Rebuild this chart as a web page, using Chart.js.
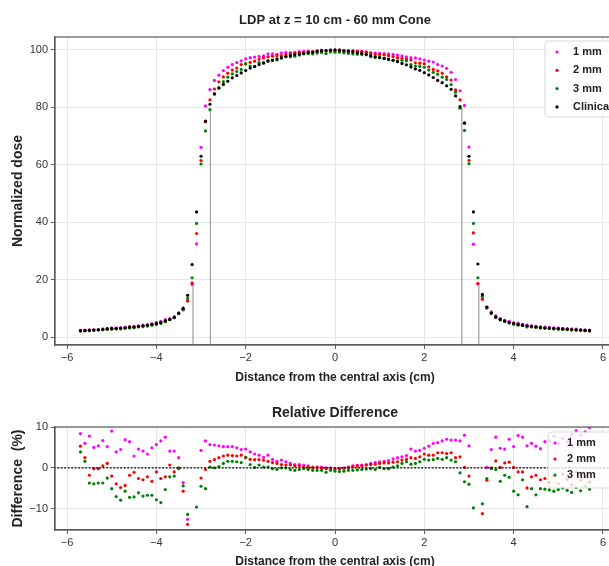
<!DOCTYPE html>
<html>
<head>
<meta charset="utf-8">
<title>LDP at z = 10 cm - 60 mm Cone</title>
<script src="https://cdn.jsdelivr.net/npm/chart.js@4.4.1/dist/chart.umd.min.js"></script>
<style>
  html, body { margin: 0; padding: 0; background: #fff; overflow: hidden; width: 609px; height: 566px; }
  .box { position: absolute; left: 0; }
  #topBox { top: 0; }
  #botBox { top: 392px; }
</style>
</head>
<body>
<div class="box" id="topBox"><canvas id="ldpChart" width="640" height="392"></canvas></div>
<div class="box" id="botBox"><canvas id="diffChart" width="640" height="182"></canvas></div>
<script>
// Distance from the central axis (cm)
const distance = [
  -5.7, -5.6, -5.5, -5.4, -5.3, -5.2, -5.1, -5.0, -4.9, -4.8,
  -4.7, -4.6, -4.5, -4.4, -4.3, -4.2, -4.1, -4.0, -3.9, -3.8,
  -3.7, -3.6, -3.5, -3.4, -3.3, -3.2, -3.1, -3.0, -2.9, -2.8,
  -2.7, -2.6, -2.5, -2.4, -2.3, -2.2, -2.1, -2.0, -1.9, -1.8,
  -1.7, -1.6, -1.5, -1.4, -1.3, -1.2, -1.1, -1.0, -0.9, -0.8,
  -0.7, -0.6, -0.5, -0.4, -0.3, -0.2, -0.1, 0.0,
  0.1, 0.2, 0.3, 0.4, 0.5, 0.6, 0.7, 0.8, 0.9, 1.0,
  1.1, 1.2, 1.3, 1.4, 1.5, 1.6, 1.7, 1.8, 1.9, 2.0,
  2.1, 2.2, 2.3, 2.4, 2.5, 2.6, 2.7, 2.8, 2.9, 3.0,
  3.1, 3.2, 3.3, 3.4, 3.5, 3.6, 3.7, 3.8, 3.9, 4.0,
  4.1, 4.2, 4.3, 4.4, 4.5, 4.6, 4.7, 4.8, 4.9, 5.0,
  5.1, 5.2, 5.3, 5.4, 5.5, 5.6, 5.7
];

// Normalized dose per grid size
const dose1mm = [
  2.4, 2.4, 2.6, 2.6, 2.7, 2.9, 3.0, 3.3, 3.2, 3.3,
  3.5, 3.7, 3.7, 4.0, 4.2, 4.3, 4.7, 5.1, 5.5, 6.1,
  6.5, 7.2, 8.5, 9.7, 12.8, 18.4, 32.5, 66.1, 80.5, 86.2,
  89.4, 91.2, 92.8, 94.0, 94.9, 95.6, 96.2, 96.9, 97.3, 97.5,
  97.8, 97.9, 98.6, 98.6, 98.5, 99.0, 99.2, 99.1, 99.2, 99.4,
  99.5, 99.6, 99.4, 99.7, 99.9, 99.8, 99.9, 99.8,
  99.8, 99.7, 99.7, 99.8, 99.6, 99.5, 99.3, 99.1, 98.9, 98.8,
  98.7, 98.6, 98.5, 98.2, 97.9, 97.6, 97.3, 97.2, 96.9, 96.5,
  96.1, 95.8, 94.9, 94.4, 93.6, 92.2, 89.7, 85.8, 80.7, 66.2,
  32.4, 18.6, 13.5, 10.5, 8.8, 7.5, 6.5, 5.9, 5.5, 5.0,
  4.9, 4.5, 4.2, 4.0, 3.8, 3.6, 3.5, 3.4, 3.3, 3.2,
  3.1, 3.0, 2.9, 2.8, 2.7, 2.6, 2.5
];
const dose2mm = [
  2.3, 2.4, 2.4, 2.5, 2.6, 2.7, 2.9, 2.9, 3.0, 3.0,
  3.2, 3.4, 3.6, 3.7, 3.9, 4.1, 4.4, 4.8, 5.1, 5.6,
  6.2, 6.8, 8.3, 9.5, 12.6, 18.9, 36.1, 61.5, 75.0, 82.6,
  86.4, 88.9, 90.6, 91.9, 93.0, 93.7, 94.9, 95.1, 95.7, 96.1,
  96.8, 97.2, 97.6, 97.8, 98.0, 98.0, 98.4, 98.7, 98.9, 99.1,
  99.0, 99.3, 99.3, 99.6, 99.7, 99.6, 99.7, 99.7,
  99.9, 99.8, 99.8, 99.6, 99.5, 99.4, 99.2, 98.8, 98.5, 98.4,
  98.3, 98.0, 97.7, 97.3, 97.1, 96.8, 96.5, 95.5, 95.4, 95.2,
  94.1, 93.2, 92.7, 91.9, 90.6, 89.5, 86.1, 82.6, 74.6, 61.6,
  36.3, 18.7, 13.2, 10.2, 8.4, 7.1, 6.2, 5.7, 5.2, 4.8,
  4.5, 4.2, 3.8, 3.7, 3.5, 3.3, 3.2, 3.1, 3.0, 2.9,
  2.8, 2.7, 2.6, 2.5, 2.4, 2.3, 2.2
];
const dose3mm = [
  2.3, 2.3, 2.3, 2.4, 2.5, 2.6, 2.8, 2.8, 2.9, 2.9,
  3.1, 3.2, 3.3, 3.6, 3.7, 3.9, 4.2, 4.4, 4.8, 5.4,
  6.1, 6.8, 8.3, 9.7, 13.5, 20.7, 39.6, 60.3, 71.8, 79.2,
  84.7, 86.9, 89.0, 90.5, 91.7, 92.5, 93.2, 95.2, 94.4, 94.3,
  95.6, 95.6, 96.3, 96.3, 96.5, 97.2, 97.7, 97.6, 97.8, 98.2,
  98.6, 98.7, 98.6, 98.9, 99.1, 98.7, 99.3, 99.2,
  99.2, 99.0, 98.8, 98.6, 98.5, 98.4, 98.3, 97.7, 97.4, 97.4,
  97.0, 96.6, 96.4, 96.2, 96.4, 96.2, 94.9, 94.4, 94.3, 94.0,
  93.0, 92.2, 91.5, 90.5, 89.7, 87.9, 85.3, 79.7, 72.0, 60.4,
  39.6, 20.7, 14.3, 10.2, 8.4, 7.0, 6.0, 5.5, 5.0, 4.5,
  4.2, 4.1, 3.6, 3.6, 3.4, 3.2, 3.1, 3.0, 2.9, 2.8,
  2.8, 2.6, 2.5, 2.5, 2.4, 2.3, 2.2
];
const doseClinical = [
  2.2, 2.3, 2.4, 2.5, 2.6, 2.7, 2.9, 3.0, 3.1, 3.2,
  3.3, 3.5, 3.6, 3.8, 4.0, 4.2, 4.5, 4.8, 5.2, 5.7,
  6.2, 6.9, 8.3, 10.1, 14.6, 25.3, 43.6, 63.0, 75.2, 81.1,
  84.7, 86.7, 88.0, 89.1, 90.3, 91.1, 92.0, 92.8, 93.7, 94.2,
  94.9, 95.4, 96.1, 96.5, 96.9, 97.2, 97.7, 98.0, 98.4, 98.6,
  98.8, 99.1, 99.2, 99.5, 99.7, 99.8, 99.9, 100.0,
  99.9, 99.7, 99.5, 99.3, 99.0, 98.8, 98.5, 98.0, 97.6, 97.3,
  97.1, 96.8, 96.4, 95.9, 95.3, 94.8, 94.1, 93.4, 92.9, 92.1,
  91.3, 90.4, 89.4, 88.6, 87.5, 86.3, 84.0, 80.3, 74.5, 63.0,
  43.6, 25.5, 14.9, 10.5, 8.4, 7.0, 6.2, 5.6, 5.1, 4.8,
  4.5, 4.2, 4.0, 3.8, 3.6, 3.4, 3.3, 3.2, 3.1, 3.0,
  2.9, 2.8, 2.7, 2.6, 2.5, 2.4, 2.3
];

// Relative difference to clinical (%), null = outside the axis range
const diff1mm = [
  8.4, 6.0, 7.8, 5.0, 5.4, 6.7, 5.2, 9.0, 3.9, 4.5,
  6.9, 6.4, 2.9, 4.6, 4.1, 3.4, 4.9, 5.7, 6.6, 7.5,
  4.1, 4.1, 2.5, -3.6, -12.6, null, null, 4.3, 6.6, 5.7,
  5.6, 5.4, 5.2, 5.2, 5.2, 4.9, 4.5, 4.6, 3.9, 3.4,
  3.1, 2.6, 3.1, 2.1, 1.6, 1.9, 1.5, 1.1, 0.8, 0.8,
  0.7, 0.5, 0.2, 0.2, 0.2, 0.0, 0.0, -0.2,
  -0.1, 0.0, 0.2, 0.5, 0.6, 0.7, 0.8, 1.1, 1.3, 1.5,
  1.6, 1.8, 2.2, 2.5, 2.7, 3.0, 4.6, 4.1, 4.3, 4.8,
  5.3, 6.0, 6.2, 6.6, 7.0, 6.8, 6.8, 6.6, 8.0, 5.4,
  null, null, null, 0.1, 4.5, 7.5, 4.8, 4.6, 7.0, 5.2,
  7.9, 7.5, 5.4, 6.0, 5.3, 4.7, 6.4, 6.6, 7.8, 5.9,
  7.2, 6.3, 8.2, 9.1, 8.0, 8.8, 9.9
];
const diff2mm = [
  5.3, 2.5, -1.8, -0.2, -0.2, 0.5, 1.1, -2.0, -3.9, -4.8,
  -4.3, -1.8, -1.1, -2.6, -2.9, -2.2, -3.3, -1.0, -2.6, -2.2,
  0.7, -1.0, -0.2, -5.7, -13.8, null, null, -2.5, -0.4, 1.6,
  2.0, 2.5, 2.9, 3.1, 3.0, 2.9, 3.1, 2.5, 2.1, 2.0,
  2.0, 1.9, 1.6, 1.3, 1.1, 0.8, 0.7, 0.7, 0.5, 0.5,
  0.2, 0.2, 0.1, 0.1, 0.0, -0.2, -0.2, -0.3,
  -0.3, -0.1, 0.1, 0.3, 0.5, 0.5, 0.7, 0.8, 0.9, 1.1,
  1.2, 1.2, 1.4, 1.5, 1.9, 2.1, 2.5, 2.3, 2.7, 3.4,
  3.1, 3.1, 3.7, 3.7, 3.5, 3.7, 2.5, 2.7, 0.1, -2.0,
  null, null, -11.2, -3.0, 0.0, 1.7, 0.1, 1.2, 1.4, 0.1,
  -1.0, -1.0, -4.9, -2.2, -1.8, -2.9, -2.6, -3.5, -2.0, -3.9,
  -1.6, -2.8, -4.1, -1.0, -3.0, -2.2, -3.5
];
const diff3mm = [
  3.9, 1.6, -3.7, -3.9, -3.7, -3.7, -2.5, -5.1, -7.0, -7.9,
  -5.7, -7.2, -7.1, -6.1, -6.9, -6.7, -6.7, -7.8, -8.5, -5.3,
  -2.2, -2.0, 0.0, -4.4, -11.4, null, -9.6, -4.5, -5.1, 0.2,
  0.0, 0.3, 1.1, 1.6, 1.6, 1.5, 1.3, 2.6, 0.8, 0.1,
  0.7, 0.2, 0.2, -0.2, -0.4, 0.0, 0.0, -0.4, -0.6, -0.4,
  -0.2, -0.4, -0.6, -0.6, -0.6, -1.1, -0.6, -0.8,
  -0.9, -0.8, -0.6, -0.6, -0.5, -0.4, -0.3, -0.2, -0.4, 0.1,
  -0.2, -0.2, 0.2, 0.5, 1.1, 1.5, 0.9, 1.1, 1.5, 2.1,
  1.9, 2.0, 2.3, 2.1, 2.5, 1.9, 1.5, -1.2, -3.4, -4.0,
  -9.8, null, -8.8, -2.6, -0.2, -0.4, -3.3, -1.8, -2.3, -5.7,
  -6.6, -2.9, -9.5, -5.1, -6.6, -5.1, -5.2, -5.4, -5.7, -5.3,
  -4.9, -5.5, -6.0, -4.8, -5.6, -4.5, -5.2
];

// Field edge markers (gray vertical lines)
const edgeX = [-3.18, -2.79, 2.84, 3.22];
const edgeTop = [18.5, 79.5, 80.0, 18.2];

const xTicks = [-6, -4, -2, 0, 2, 4, 6];
const doseTicks = [0, 20, 40, 60, 80, 100];
const diffTicks = [-10, 0, 10];

const colors = { m1: '#ff00ff', m2: '#ff0000', m3: '#008000', clin: '#000000' };

Chart.defaults.font.family = "'Liberation Sans', Arial, sans-serif";
Chart.defaults.font.size = 11;
Chart.defaults.color = '#333';
Chart.defaults.animation = false;

function pts(ys) {
  return distance.map((x, i) => ({ x: x, y: ys[i] }));
}
function minus(v) {
  return v < 0 ? '\u2212' + Math.abs(v) : String(v);
}

function scatterSet(label, ys, color, order) {
  return {
    type: 'scatter', label: label, data: pts(ys), order: order,
    backgroundColor: color, borderWidth: 0, pointRadius: 1.6, pointHoverRadius: 1.6
  };
}

// Title, frame and a matplotlib style legend inside the axes
const decor = {
  id: 'decor',
  afterDatasetsDraw(chart, args, opts) {
    const c = chart.ctx, a = chart.chartArea;
    c.save();
    c.strokeStyle = '#5a5a5a';
    c.lineWidth = 1.2;
    c.strokeRect(a.left, a.top, a.right - a.left, a.bottom - a.top);

    c.fillStyle = '#222';
    c.font = "bold " + opts.titleSize + "px 'Liberation Sans', Arial, sans-serif";
    c.textAlign = 'center';
    c.textBaseline = 'middle';
    c.fillText(opts.title, (a.left + a.right) / 2, opts.titleY);

    const lg = opts.legend;
    c.globalAlpha = 0.8;
    c.fillStyle = '#fff';
    c.strokeStyle = '#d0d0d0';
    c.lineWidth = 1;
    c.beginPath();
    c.roundRect(lg.x, lg.y, lg.w, lg.h, 3);
    c.fill();
    c.stroke();
    c.globalAlpha = 1;
    c.font = "bold 11px 'Liberation Sans', Arial, sans-serif";
    c.textAlign = 'left';
    lg.items.forEach((it, i) => {
      const y = lg.y + lg.first + i * lg.step;
      c.fillStyle = it.color;
      c.beginPath();
      c.arc(lg.x + lg.mx, y, 1.6, 0, Math.PI * 2);
      c.fill();
      c.fillStyle = '#222';
      c.fillText(it.label, lg.x + lg.tx, y);
    });
    c.restore();
  }
};

function axisX(min, max, height, titlePad) {
  return {
    type: 'linear', min: min, max: max,
    afterBuildTicks: s => { s.ticks = xTicks.map(v => ({ value: v })); },
    afterFit: s => { s.height = height; },
    grid: { color: '#e6e6e6', tickLength: 4, tickColor: '#5a5a5a' },
    border: { color: '#5a5a5a', width: 1.2 },
    ticks: { padding: 2, callback: minus, color: '#333' },
    title: {
      display: true, text: 'Distance from the central axis (cm)',
      font: { size: 12, weight: 'bold' }, color: '#222', padding: { top: 0, bottom: titlePad }
    }
  };
}
function axisY(min, max, tickList, title) {
  return {
    type: 'linear', min: min, max: max,
    afterBuildTicks: s => { s.ticks = tickList.map(v => ({ value: v })); },
    afterFit: s => { s.width = 55; },
    grid: { color: '#e6e6e6', tickLength: 4, tickColor: '#5a5a5a' },
    border: { color: '#5a5a5a', width: 1.2 },
    ticks: { padding: 3, callback: minus, color: '#333' },
    title: {
      display: true, text: title,
      font: { size: 14, weight: 'bold' }, color: '#222', padding: { top: 9.6, bottom: 0 }
    }
  };
}

// Top: lateral dose profile
const edgeSets = edgeX.map((x, i) => ({
  type: 'line', label: 'edge', order: 5,
  data: [{ x: x, y: -5 }, { x: x, y: edgeTop[i] }],
  borderColor: '#a0a0a0', borderWidth: 1.2, pointRadius: 0, showLine: true
}));

new Chart(document.getElementById('ldpChart'), {
  type: 'scatter',
  data: {
    datasets: [
      scatterSet('1 mm', dose1mm, colors.m1, 4),
      scatterSet('2 mm', dose2mm, colors.m2, 3),
      scatterSet('3 mm', dose3mm, colors.m3, 2),
      scatterSet('Clinical', doseClinical, colors.clin, 1)
    ].concat(edgeSets)
  },
  options: {
    responsive: false,
    layout: { padding: { left: 0, right: 25, top: 37, bottom: 0 } },
    scales: {
      x: axisX(-6.27, 6.27, 47, 7),
      y: axisY(-2.7, 104.5, doseTicks, 'Normalized dose')
    },
    plugins: {
      legend: { display: false },
      tooltip: { enabled: false },
      decor: {
        title: 'LDP at z = 10 cm - 60 mm Cone', titleY: 20, titleSize: 13,
        legend: {
          x: 545, y: 41, w: 90, h: 76, first: 11, step: 18.3, mx: 12, tx: 28,
          items: [
            { label: '1 mm', color: colors.m1 },
            { label: '2 mm', color: colors.m2 },
            { label: '3 mm', color: colors.m3 },
            { label: 'Clinical', color: colors.clin }
          ]
        }
      }
    }
  },
  plugins: [decor]
});

// Bottom: relative difference
new Chart(document.getElementById('diffChart'), {
  type: 'scatter',
  data: {
    datasets: [
      {
        type: 'line', label: 'zero', order: 0,
        data: [{ x: -6.3, y: 0 }, { x: 6.3, y: 0 }],
        borderColor: '#000', borderWidth: 1.2, borderDash: [2, 1.5], pointRadius: 0, showLine: true
      },
      scatterSet('1 mm', diff1mm, colors.m1, 3),
      scatterSet('2 mm', diff2mm, colors.m2, 2),
      scatterSet('3 mm', diff3mm, colors.m3, 1)
    ]
  },
  options: {
    responsive: false,
    layout: { padding: { left: 0, right: 25, top: 35, bottom: 0 } },
    scales: {
      x: axisX(-6.27, 6.27, 44, 5),
      y: axisY(-15.2, 10, diffTicks, 'Difference  (%)')
    },
    plugins: {
      legend: { display: false },
      tooltip: { enabled: false },
      decor: {
        title: 'Relative Difference', titleY: 21, titleSize: 14,
        legend: {
          x: 548, y: 40, w: 90, h: 56, first: 11, step: 16, mx: 7, tx: 19,
          items: [
            { label: '1 mm', color: colors.m1 },
            { label: '2 mm', color: colors.m2 },
            { label: '3 mm', color: colors.m3 }
          ]
        }
      }
    }
  },
  plugins: [decor]
});
</script>
</body>
</html>
